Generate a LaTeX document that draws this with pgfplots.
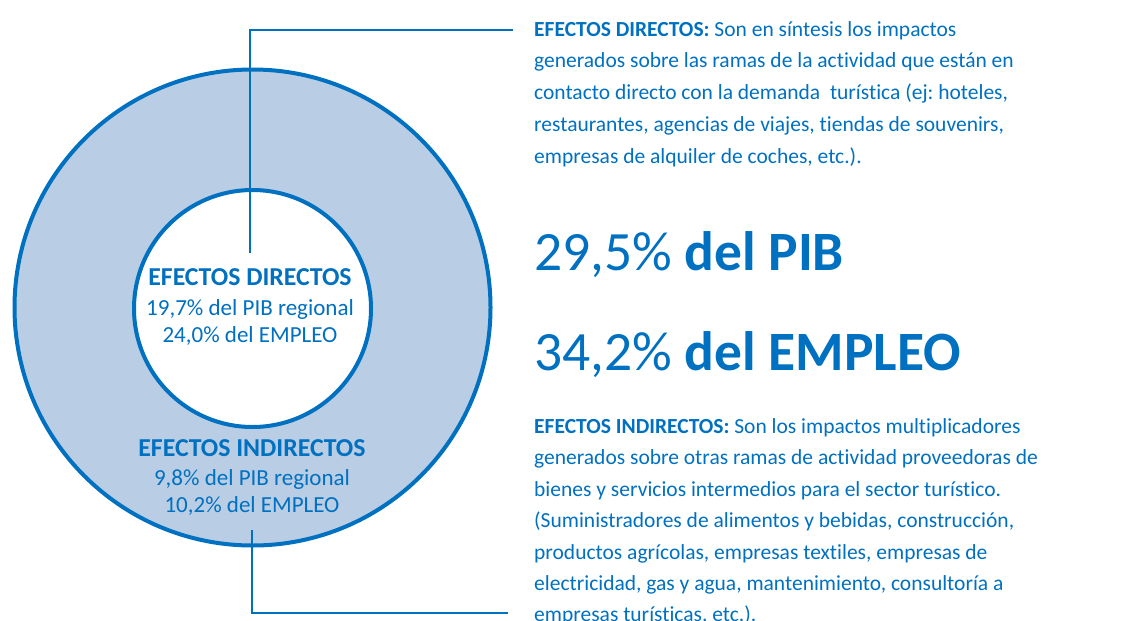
\documentclass[border=0pt]{standalone}
\usepackage{fontspec}
\setmainfont{Carlito}[Ligatures=NoCommon]
\usepackage{pgfplots}
\pgfplotsset{compat=1.18}

\definecolor{azul}{HTML}{0070C0}
\definecolor{anillo}{HTML}{B9CDE5}

% shares of the regional economy (PIB, EMPLEO)
% directos: 19.7 / 24.0   indirectos: 9.8 / 10.2   total: 29.5 / 34.2

\newcommand\txtbody{\fontsize{21.5}{31.5}\selectfont}
\newcommand\txtinner{\fontsize{23}{29}\selectfont}
\newcommand\txthead{\fontsize{25.8}{29}\selectfont\bfseries}
\newcommand\txtbig{\fontsize{55.5}{60}\selectfont}
\tikzset{lbl/.style={text=azul, inner sep=0pt}}

\begin{document}
\frenchspacing
\begin{tikzpicture}
\useasboundingbox (0,0) rectangle (1143pt,621pt);
\clip (0,0) rectangle (1143pt,621pt);
\begin{axis}[
    width=1143pt, height=621pt, scale only axis,
    xmin=0, xmax=1143, ymin=0, ymax=621, y dir=reverse,
    hide axis, clip=false,
]
    % ring and centre
    \filldraw[fill=anillo, draw=azul, line width=4pt] (axis cs:252.5,307.5) circle[radius=238pt];
    \filldraw[fill=white, draw=azul, line width=4pt] (axis cs:252.5,308.5) circle[radius=118.5pt];

    % connectors
    \addplot[azul, line width=2pt, mark=none] coordinates {(250,253) (250,30) (513,30)};
    \addplot[azul, line width=2pt, mark=none] coordinates {(252,530) (252,613) (508,613)};

    % labels inside the ring
    \node[lbl, anchor=base] at (axis cs:250,285) {\txthead EFECTOS DIRECTOS};
    \node[lbl, anchor=base] at (axis cs:250,315) {\txtinner 19,7\% del PIB regional};
    \node[lbl, anchor=base] at (axis cs:250,342) {\txtinner 24,0\% del EMPLEO};
    \node[lbl, anchor=base] at (axis cs:252,456) {\txthead EFECTOS INDIRECTOS};
    \node[lbl, anchor=base] at (axis cs:252,485) {\txtinner 9,8\% del PIB regional};
    \node[lbl, anchor=base] at (axis cs:252,512) {\txtinner 10,2\% del EMPLEO};

    % totals
    \node[lbl, anchor=base west] at (axis cs:534,270) {\txtbig 29,5\% \textbf{del PIB}};
    \node[lbl, anchor=base west] at (axis cs:534,370) {\txtbig 34,2\% \textbf{del EMPLEO}};

    % text on the right
    \node[lbl, anchor=base west] at (axis cs:534,36) {\txtbody\textbf{EFECTOS DIRECTOS:} Son en síntesis los impactos};
    \node[lbl, anchor=base west] at (axis cs:534,67.75) {\txtbody generados sobre las ramas de la actividad que están en};
    \node[lbl, anchor=base west] at (axis cs:534,99.5) {\txtbody contacto directo con la demanda\ \ turística (ej: hoteles,};
    \node[lbl, anchor=base west] at (axis cs:534,131.25) {\txtbody restaurantes, agencias de viajes, tiendas de souvenirs,};
    \node[lbl, anchor=base west] at (axis cs:534,163) {\txtbody empresas de alquiler de coches, etc.).};

    \node[lbl, anchor=base west] at (axis cs:534,433) {\txtbody\textbf{EFECTOS INDIRECTOS:} Son los impactos multiplicadores};
    \node[lbl, anchor=base west] at (axis cs:534,464.5) {\txtbody generados sobre otras ramas de actividad proveedoras de};
    \node[lbl, anchor=base west] at (axis cs:534,496) {\txtbody bienes y servicios intermedios para el sector turístico.};
    \node[lbl, anchor=base west] at (axis cs:534,527.5) {\txtbody (Suministradores de alimentos y bebidas, construcción,};
    \node[lbl, anchor=base west] at (axis cs:534,559) {\txtbody productos agrícolas, empresas textiles, empresas de};
    \node[lbl, anchor=base west] at (axis cs:534,590.5) {\txtbody electricidad, gas y agua, mantenimiento, consultoría a};
    \node[lbl, anchor=base west] at (axis cs:534,621.5) {\txtbody empresas turísticas, etc.).};
\end{axis}
\end{tikzpicture}
\end{document}
